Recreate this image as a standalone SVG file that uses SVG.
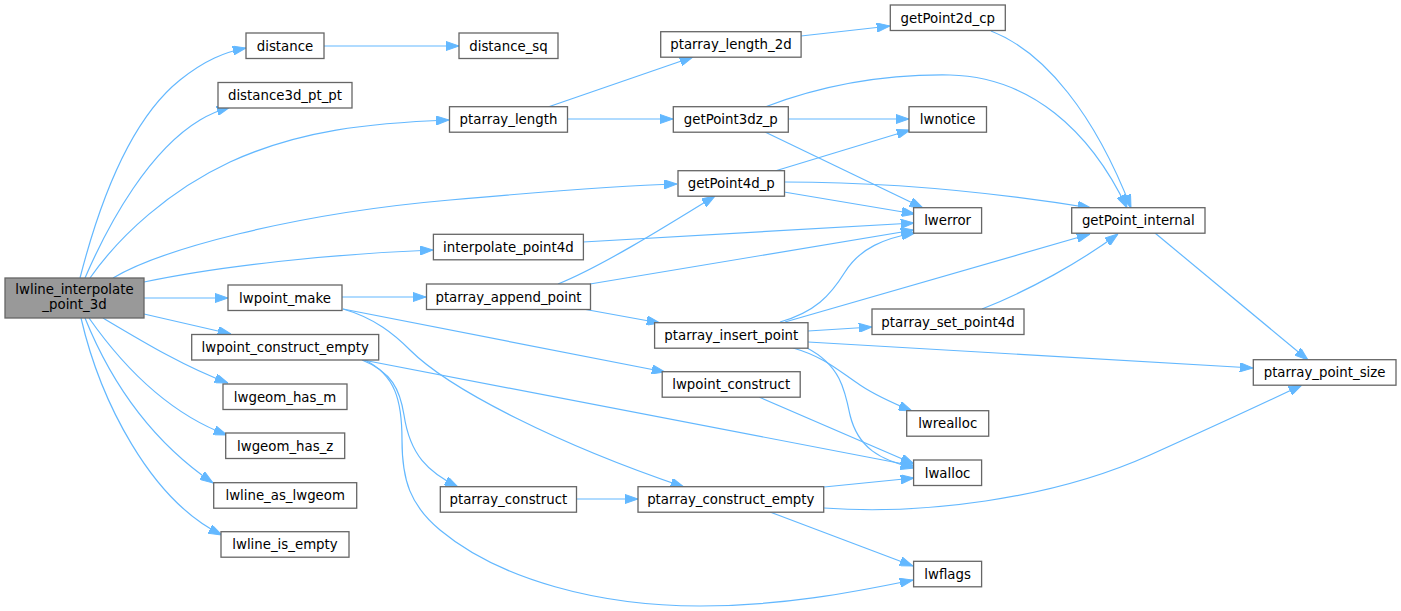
<svg xmlns="http://www.w3.org/2000/svg" width="1401" height="611" viewBox="0 0 1401 611">
<style>
.n rect{fill:#ffffff;stroke:#666666;stroke-width:1.3}
.m rect{fill:#999999;stroke:#666666;stroke-width:1.3}
text{font-family:"DejaVu Sans","Liberation Sans",sans-serif;font-size:13.33px;fill:#000000;text-anchor:middle}
#edges path{fill:none;stroke:#63b8ff;stroke-width:1.2;marker-end:url(#ah)}
</style>
<defs>
<marker id="ah" markerUnits="userSpaceOnUse" viewBox="0 0 13.3 9.3" refX="13.3" refY="4.65" markerWidth="13.3" markerHeight="9.3" orient="auto">
<path d="M0,0 L13.3,4.65 L0,9.3 z" fill="#63b8ff" stroke="#63b8ff" stroke-width="1"/>
</marker>
</defs>
<rect width="1401" height="611" fill="#ffffff"/>
<g id="edges">
<path d="M80,278 C100,200 130,120 180,80 C205,60 225,52 246,48"/>
<path d="M85,278 C110,220 150,150 200,120 C210,114 220,110 230,107"/>
<path d="M90,278 C120,235 170,190 230,162 C300,130 370,123 449,120"/>
<path d="M113,278 C160,250 290,214 450,200 C540,192 610,186 677,184"/>
<path d="M144,282 C220,266 330,254 433,250"/>
<path d="M144,298 L228,298"/>
<path d="M144,314 L231,334"/>
<path d="M103,318 C145,343 185,367 228,383"/>
<path d="M89,318 C115,355 160,410 227,435"/>
<path d="M85,318 C110,380 150,440 213,483"/>
<path d="M81,318 C100,400 150,500 222,535"/>
<path d="M324,46 L459,46"/>
<path d="M548,107 L693,57"/>
<path d="M567,119 L673,119"/>
<path d="M801,36 L890,26"/>
<path d="M991,31 C1045,52 1095,115 1131,208"/>
<path d="M765,107 C820,86 880,74 950,75 C1030,77 1090,130 1127,208"/>
<path d="M788,119 L909,119"/>
<path d="M765,132 L923,208"/>
<path d="M775,171 L910,130"/>
<path d="M784,182 C880,182 980,190 1091,208"/>
<path d="M784,192 L915,214"/>
<path d="M583,242 L914,223"/>
<path d="M342,297 L426,297"/>
<path d="M343,309 L665,372"/>
<path d="M343,309 C375,318 395,335 410,350 C450,390 560,445 684,487"/>
<path d="M558,284 C600,267 660,230 715,196"/>
<path d="M590,284 L914,230"/>
<path d="M583,309 L660,323"/>
<path d="M780,322 C815,312 830,296 845,272 C860,248 885,238 915,233"/>
<path d="M785,322 L1090,234"/>
<path d="M808,331 L872,327"/>
<path d="M808,342 C900,348 1000,354 1253,368"/>
<path d="M793,348 C825,357 840,372 860,385 C875,395 895,404 912,411"/>
<path d="M807,348 C840,365 845,390 850,415 C858,448 880,460 914,468"/>
<path d="M982,309 C1030,290 1080,262 1118,234"/>
<path d="M1155,233 L1308,360"/>
<path d="M363,360 L914,466"/>
<path d="M362,360 C392,372 400,390 404,415 C410,455 428,472 458,487"/>
<path d="M365,360 C395,375 402,400 402,440 C402,480 410,505 440,530 C500,580 600,606 700,606 C780,606 850,593 913,580"/>
<path d="M759,397 L914,464"/>
<path d="M576,499 L638,499"/>
<path d="M824,487 L914,478"/>
<path d="M824,508 C920,515 1050,500 1150,455 C1210,428 1260,405 1302,385"/>
<path d="M770,512 L913,566"/>
</g>
<g id="node-lwline_interpolate_point_3d" class="m"><rect x="5" y="278" width="139" height="40"/><text x="74.5" y="293.5">lwline_interpolate</text><text x="74.5" y="308.5">_point_3d</text></g>
<g id="node-distance" class="n"><rect x="246" y="33" width="78" height="25.5"/><text x="285" y="50.5">distance</text></g>
<g id="node-distance3d_pt_pt" class="n"><rect x="218" y="82.5" width="134" height="25.5"/><text x="285" y="100">distance3d_pt_pt</text></g>
<g id="node-lwpoint_make" class="n"><rect x="228" y="285" width="114" height="25.5"/><text x="285" y="302.5">lwpoint_make</text></g>
<g id="node-lwpoint_construct_empty" class="n"><rect x="191.7" y="334.5" width="187" height="25.5"/><text x="285.2" y="352">lwpoint_construct_empty</text></g>
<g id="node-lwgeom_has_m" class="n"><rect x="223" y="384" width="124" height="25.5"/><text x="285" y="401.5">lwgeom_has_m</text></g>
<g id="node-lwgeom_has_z" class="n"><rect x="225.7" y="433" width="119" height="25.5"/><text x="285.2" y="450.5">lwgeom_has_z</text></g>
<g id="node-lwline_as_lwgeom" class="n"><rect x="213.7" y="482.7" width="143" height="25.5"/><text x="285.2" y="500.2">lwline_as_lwgeom</text></g>
<g id="node-lwline_is_empty" class="n"><rect x="221" y="531.7" width="128" height="25.5"/><text x="285" y="549.2">lwline_is_empty</text></g>
<g id="node-distance_sq" class="n"><rect x="459" y="33" width="99" height="25.5"/><text x="508.5" y="50.5">distance_sq</text></g>
<g id="node-ptarray_length" class="n"><rect x="449.5" y="106.7" width="118" height="25.5"/><text x="508.5" y="124.2">ptarray_length</text></g>
<g id="node-interpolate_point4d" class="n"><rect x="433.4" y="234.3" width="150" height="25.5"/><text x="508.4" y="251.8">interpolate_point4d</text></g>
<g id="node-ptarray_append_point" class="n"><rect x="426.5" y="284" width="164" height="25.5"/><text x="508.5" y="301.5">ptarray_append_point</text></g>
<g id="node-ptarray_length_2d" class="n"><rect x="660.7" y="31.7" width="140.4" height="25.5"/><text x="730.9" y="49.2">ptarray_length_2d</text></g>
<g id="node-getPoint2d_cp" class="n"><rect x="890.3" y="5" width="115" height="25.5"/><text x="947.8" y="22.5">getPoint2d_cp</text></g>
<g id="node-getPoint3dz_p" class="n"><rect x="673.3" y="106.7" width="115" height="25.5"/><text x="730.8" y="124.2">getPoint3dz_p</text></g>
<g id="node-lwnotice" class="n"><rect x="909" y="106.7" width="77.5" height="25.5"/><text x="947.7" y="124.2">lwnotice</text></g>
<g id="node-getPoint4d_p" class="n"><rect x="678" y="170.7" width="106.5" height="25.5"/><text x="731.2" y="188.2">getPoint4d_p</text></g>
<g id="node-lwerror" class="n"><rect x="913.6" y="207.7" width="68" height="25.5"/><text x="947.6" y="225.2">lwerror</text></g>
<g id="node-getPoint_internal" class="n"><rect x="1071.7" y="207.7" width="133.3" height="25.5"/><text x="1138.3" y="225.2">getPoint_internal</text></g>
<g id="node-ptarray_set_point4d" class="n"><rect x="872" y="309" width="152" height="25.5"/><text x="948" y="326.5">ptarray_set_point4d</text></g>
<g id="node-ptarray_insert_point" class="n"><rect x="654.6" y="322.7" width="153.4" height="25.5"/><text x="731.3" y="340.2">ptarray_insert_point</text></g>
<g id="node-lwpoint_construct" class="n"><rect x="662.2" y="371.7" width="138" height="25.5"/><text x="731.2" y="389.2">lwpoint_construct</text></g>
<g id="node-lwrealloc" class="n"><rect x="906.7" y="410.7" width="82" height="25.5"/><text x="947.7" y="428.2">lwrealloc</text></g>
<g id="node-lwalloc" class="n"><rect x="913.6" y="460" width="68" height="25.5"/><text x="947.6" y="477.5">lwalloc</text></g>
<g id="node-ptarray_construct" class="n"><rect x="440.3" y="486.7" width="136.2" height="25.5"/><text x="508.4" y="504.2">ptarray_construct</text></g>
<g id="node-ptarray_construct_empty" class="n"><rect x="638" y="486.7" width="185.7" height="25.5"/><text x="730.8" y="504.2">ptarray_construct_empty</text></g>
<g id="node-lwflags" class="n"><rect x="913.6" y="561.3" width="68" height="25.5"/><text x="947.6" y="578.8">lwflags</text></g>
<g id="node-ptarray_point_size" class="n"><rect x="1253.3" y="359.7" width="142.7" height="25.5"/><text x="1324.6" y="377.2">ptarray_point_size</text></g>
</svg>
